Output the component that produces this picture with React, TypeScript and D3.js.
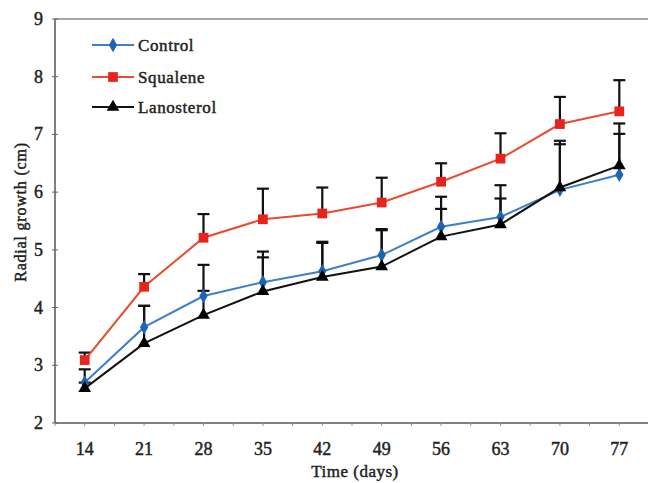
import React, { useEffect, useRef } from "react";
import * as d3 from "d3";

const days = ["14", "21", "28", "35", "42", "49", "56", "63", "70", "77"];
const yTicks = [2, 3, 4, 5, 6, 7, 8, 9];

const controlMean = [2.70, 3.66, 4.20, 4.44, 4.63, 4.91, 5.40, 5.57, 6.04, 6.30];
const controlErr = [0.23, 0.37, 0.54, 0.53, 0.51, 0.43, 0.52, 0.55, 0.79, 0.71];
const squaleneMean = [3.09, 4.36, 5.21, 5.53, 5.63, 5.82, 6.18, 6.58, 7.18, 7.40];
const squaleneErr = [0.13, 0.22, 0.41, 0.53, 0.45, 0.43, 0.32, 0.44, 0.47, 0.54];
const lanosterolMean = [2.60, 3.38, 3.87, 4.28, 4.53, 4.71, 5.23, 5.44, 6.08, 6.46];
const lanosterolErr = [0.10, 0.65, 0.42, 0.59, 0.59, 0.65, 0.48, 0.45, 0.81, 0.73];

const seriesNames = ["Control", "Squalene", "Lanosterol"];

const W = 648, H = 483;
const left = 55, right = 649, top = 19, bottom = 423;
const FONT = "'Liberation Serif', 'DejaVu Serif', serif";

export default function App() {
  const ref = useRef<SVGSVGElement>(null);

  useEffect(() => {
    const svg = d3.select(ref.current);
    svg.selectAll("*").remove();

    const x = d3.scaleBand().domain(days).range([left, right]);
    const cx = (d: string) => (x(d) as number) + x.bandwidth() / 2;
    const y = d3.scaleLinear().domain([2, 9]).range([bottom, top]);

    const series = [
      { name: seriesNames[0], mean: controlMean, err: controlErr, line: "#3f7fca", fill: "#1e63b4", shape: d3.symbolDiamond, size: 60 },
      { name: seriesNames[1], mean: squaleneMean, err: squaleneErr, line: "#ec4a30", fill: "#e8231c", shape: d3.symbolSquare, size: 95 },
      { name: seriesNames[2], mean: lanosterolMean, err: lanosterolErr, line: "#111", fill: "#000", shape: d3.symbolTriangle, size: 70 },
    ];

    // text style: regular serif thickened a little with a thin stroke
    const txt = (sel: any, size: number) => sel
      .style("font-family", FONT).style("font-size", size + "px")
      .style("fill", "#222").style("stroke", "#222").style("stroke-width", "0.45px");

    // frame
    const frame = svg.append("g").attr("stroke", "#555").attr("stroke-width", 1.5).attr("fill", "none");
    frame.append("line").attr("x1", left).attr("x2", left).attr("y1", top).attr("y2", bottom);
    frame.append("line").attr("x1", left).attr("x2", W + 5).attr("y1", top).attr("y2", top).attr("stroke", "#888");
    frame.append("line").attr("x1", left).attr("x2", W + 5).attr("y1", bottom).attr("y2", bottom);

    // y axis ticks + labels
    const yg = svg.append("g");
    yg.selectAll("line").data(yTicks).enter().append("line")
      .attr("x1", left - 3).attr("x2", left + 3)
      .attr("y1", d => y(d)).attr("y2", d => y(d))
      .attr("stroke", "#666").attr("stroke-width", 1);
    txt(yg.selectAll("text").data(yTicks).enter().append("text")
      .attr("x", left - 12).attr("y", d => y(d) + 6)
      .attr("text-anchor", "end"), 18)
      .text(d => d);

    // x axis ticks + labels
    const xg = svg.append("g");
    const xTickPos: number[] = [];
    days.forEach(d => { xTickPos.push(x(d) as number); xTickPos.push(cx(d)); });
    xg.selectAll("line").data(xTickPos).enter().append("line")
      .attr("x1", d => d).attr("x2", d => d)
      .attr("y1", bottom).attr("y2", bottom + 3)
      .attr("stroke", "#999").attr("stroke-width", 1);
    txt(xg.selectAll("text").data(days).enter().append("text")
      .attr("x", d => cx(d)).attr("y", 455)
      .attr("text-anchor", "middle"), 18)
      .text(d => d);

    // axis titles
    txt(svg.append("text")
      .attr("x", 355).attr("y", 477)
      .attr("text-anchor", "middle"), 17)
      .style("letter-spacing", "0.5px")
      .text("Time (days)");
    txt(svg.append("text")
      .attr("transform", `translate(26,${212}) rotate(-90)`)
      .attr("text-anchor", "middle"), 16)
      .style("letter-spacing", "0.8px")
      .text("Radial growth (cm)");

    // error bars (upper only)
    const eg = svg.append("g").attr("stroke", "#111").attr("stroke-width", 2.2);
    series.forEach(s => {
      days.forEach((d, i) => {
        const up = s.mean[i] + s.err[i];
        eg.append("line").attr("x1", cx(d)).attr("x2", cx(d)).attr("y1", y(s.mean[i])).attr("y2", y(up));
        eg.append("line").attr("x1", cx(d) - 6).attr("x2", cx(d) + 6).attr("y1", y(up)).attr("y2", y(up));
      });
    });

    // lines + markers
    const lineGen = d3.line<number>().x((_, i) => cx(days[i])).y(v => y(v));
    series.forEach(s => {
      svg.append("path").datum(s.mean).attr("d", lineGen)
        .attr("fill", "none").attr("stroke", s.line).attr("stroke-width", 2);
      svg.append("g").selectAll("path").data(s.mean).enter().append("path")
        .attr("d", d3.symbol().type(s.shape).size(s.size)())
        .attr("transform", (v, i) => `translate(${cx(days[i])},${y(v)})`)
        .attr("fill", s.fill);
    });

    // legend
    const lg = svg.append("g");
    const rowY = [45, 77, 107];
    series.forEach((s, i) => {
      const row = lg.append("g").attr("transform", `translate(0,${rowY[i]})`);
      row.append("line").attr("x1", 92).attr("x2", 134).attr("y1", 0).attr("y2", 0)
        .attr("stroke", s.line).attr("stroke-width", 2);
      row.append("path").attr("d", d3.symbol().type(s.shape).size(s.size)())
        .attr("transform", "translate(113,0)").attr("fill", s.fill);
      txt(row.append("text").attr("x", 138).attr("y", 6), 17)
        .style("letter-spacing", "0.6px")
        .text(s.name);
    });
  }, []);

  return (
    <svg ref={ref} width={W} height={H}
      style={{ position: "absolute", left: 0, top: 0, background: "#fff" }} />
  );
}
